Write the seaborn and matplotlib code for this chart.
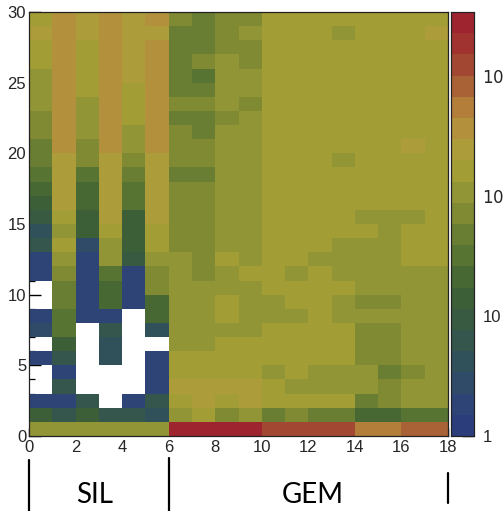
import numpy as np
import pandas as pd
import matplotlib
matplotlib.use("Agg")
import matplotlib.pyplot as plt
import matplotlib.transforms as mtransforms
from matplotlib.colors import ListedColormap, LogNorm
from matplotlib.ticker import FixedLocator, MultipleLocator, NullFormatter
import seaborn as sns

sns.set_theme(style="white")
plt.rcParams["font.family"] = ["Liberation Sans", "DejaVu Sans"]

# layer bins (x) and strip bins (y)
x_bins = list(range(18))
y_bins = list(range(30))

# hit counts, one list per y bin (y = 0 .. 29); 0 means no entries
# silicon layers, x = 0 .. 5
sil_hits = [
    [105, 105, 105, 105, 105, 105],
    [14, 6, 14, 6, 6, 4],
    [2, 2, 6, 0, 2, 6],
    [0, 6, 0, 0, 0, 2],
    [0, 2, 0, 0, 0, 2],
    [2, 6, 0, 4, 0, 2],
    [0, 14, 0, 4, 0, 0],
    [3, 31, 0, 6, 0, 4],
    [2, 31, 2, 2, 0, 21],
    [0, 47, 2, 21, 2, 21],
    [0, 47, 2, 21, 2, 70],
    [2, 70, 2, 31, 2, 70],
    [2, 105, 2, 105, 9, 105],
    [6, 160, 3, 105, 14, 160],
    [4, 105, 14, 160, 14, 160],
    [9, 160, 14, 240, 14, 240],
    [14, 240, 21, 240, 31, 240],
    [21, 240, 21, 240, 31, 240],
    [31, 240, 31, 240, 47, 240],
    [47, 240, 70, 240, 70, 240],
    [47, 360, 70, 360, 105, 360],
    [70, 360, 105, 360, 105, 360],
    [70, 360, 105, 360, 160, 360],
    [105, 360, 105, 360, 160, 360],
    [105, 360, 160, 360, 160, 360],
    [105, 360, 160, 360, 240, 360],
    [160, 360, 160, 360, 240, 360],
    [160, 360, 160, 360, 240, 360],
    [240, 360, 240, 360, 240, 240],
    [160, 360, 240, 360, 240, 360],
]

# GEM layers, x = 6 .. 17
gem_hits = [
    [2700, 2700, 2700, 2700, 1200, 1200, 1200, 1200, 540, 540, 800, 800],
    [105, 160, 70, 105, 47, 70, 47, 47, 21, 21, 31, 31],
    [160, 240, 160, 240, 160, 160, 160, 160, 47, 70, 105, 105],
    [240, 240, 240, 240, 160, 105, 105, 105, 105, 70, 105, 105],
    [160, 160, 160, 160, 105, 160, 105, 105, 105, 47, 70, 105],
    [160, 160, 160, 160, 160, 160, 160, 160, 70, 70, 105, 105],
    [105, 105, 160, 160, 160, 160, 160, 160, 70, 70, 105, 105],
    [105, 105, 105, 105, 160, 160, 160, 160, 70, 70, 105, 105],
    [105, 105, 160, 105, 105, 105, 160, 105, 105, 105, 105, 105],
    [105, 105, 160, 105, 105, 160, 160, 105, 70, 70, 105, 105],
    [105, 105, 105, 105, 160, 160, 160, 160, 105, 105, 105, 105],
    [105, 70, 105, 160, 160, 105, 160, 105, 105, 105, 105, 105],
    [105, 70, 160, 105, 160, 160, 105, 105, 105, 105, 160, 160],
    [70, 70, 105, 105, 160, 160, 160, 105, 105, 105, 160, 160],
    [70, 70, 105, 105, 160, 160, 160, 160, 160, 105, 160, 160],
    [70, 70, 105, 105, 160, 160, 160, 160, 105, 105, 105, 160],
    [70, 70, 105, 105, 160, 160, 160, 160, 160, 160, 160, 160],
    [70, 70, 105, 105, 160, 160, 160, 160, 160, 160, 160, 160],
    [47, 47, 105, 105, 160, 160, 160, 160, 160, 160, 160, 160],
    [70, 70, 105, 105, 160, 160, 160, 105, 160, 160, 160, 160],
    [70, 70, 105, 105, 160, 160, 160, 160, 160, 160, 240, 160],
    [70, 47, 105, 105, 160, 160, 160, 160, 160, 160, 160, 160],
    [47, 47, 70, 105, 160, 160, 160, 160, 160, 160, 160, 160],
    [70, 70, 105, 70, 160, 160, 160, 160, 160, 160, 160, 160],
    [47, 47, 105, 105, 160, 160, 160, 160, 160, 160, 160, 160],
    [47, 31, 105, 105, 160, 160, 160, 160, 160, 160, 160, 160],
    [47, 70, 105, 70, 160, 160, 160, 160, 160, 160, 160, 160],
    [47, 47, 70, 70, 160, 160, 160, 160, 160, 160, 160, 160],
    [47, 47, 70, 105, 160, 160, 160, 105, 160, 160, 160, 240],
    [70, 47, 70, 70, 160, 160, 160, 160, 160, 160, 160, 160],
]

# detector groups along x
groups = ["SIL", "GEM"]
group_edges = [0, 6, 18]

z_min, z_max = 1, 3400

# 20-step palette, lowest to highest contour
palette = [
    "#2c3d7b", "#2e4476", "#2f4b68", "#31515a", "#34564c",
    "#385a41", "#3d5f37", "#476833", "#587432", "#697d33",
    "#7f8a33", "#929535", "#a39d36", "#ad9c3a", "#b3903c",
    "#b27e3a", "#a96136", "#a24832", "#a0322f", "#9e2430",
]
cmap = ListedColormap(palette)

hits = np.hstack([np.array(sil_hits), np.array(gem_hits)])
df = pd.DataFrame(hits, index=y_bins, columns=x_bins)

W, H, DPI = 504, 511, 100
fig = plt.figure(figsize=(W / DPI, H / DPI), dpi=DPI)
ax = fig.add_axes([29 / W, 75 / H, 419 / W, 424 / H])
cax = fig.add_axes([451 / W, 75 / H, 23 / W, 424 / H])

sns.heatmap(
    df, mask=(df == 0), cmap=cmap, norm=LogNorm(vmin=z_min, vmax=z_max),
    ax=ax, cbar_ax=cax, xticklabels=False, yticklabels=False,
    linewidths=0,
)
ax.collections[0].set_antialiased(False)
ax.invert_yaxis()
ax.set_xlim(0, 18)
ax.set_ylim(0, 30)
ax.set_xlabel("")
ax.set_ylabel("")

for s in ax.spines.values():
    s.set_visible(True)
    s.set_color("#222222")
    s.set_linewidth(0.9)

ax.xaxis.set_major_locator(FixedLocator(list(range(0, 19, 2))))
ax.xaxis.set_minor_locator(MultipleLocator(0.5))
ax.set_xticklabels([str(v) for v in range(0, 19, 2)])
ax.yaxis.set_major_locator(FixedLocator(list(range(0, 31, 5))))
ax.yaxis.set_minor_locator(MultipleLocator(1))
ax.set_yticklabels([str(v) for v in range(0, 31, 5)])
ax.tick_params(axis="x", which="major", direction="in", length=5.5, width=1,
               color="black", labelsize=12, pad=3, bottom=True, top=False)
ax.tick_params(axis="x", which="minor", direction="in", length=3, width=0.9,
               color="black", bottom=True, top=False)
ax.tick_params(axis="y", which="major", direction="in", length=8.5, width=1,
               color="black", labelsize=12, pad=2, left=True, right=False)
ax.tick_params(axis="y", which="minor", direction="in", length=4.3, width=0.9,
               color="black", left=True, right=False)

# colour scale
cax.set_yscale("log")
cax.set_ylim(z_min, z_max)
cax.yaxis.set_ticks_position("right")
cax.yaxis.set_major_locator(FixedLocator([1, 10, 100, 1000]))
cax.set_yticklabels(["1", "10", r"$10^{2}$", r"$10^{3}$"])
minors = [m * d for d in (1, 10, 100, 1000) for m in range(2, 10) if m * d < z_max]
cax.yaxis.set_minor_locator(FixedLocator(minors))
cax.yaxis.set_minor_formatter(NullFormatter())
cax.tick_params(which="major", direction="in", length=8.5, width=1,
                color="black", labelsize=12, pad=6, right=True, left=False)
cax.tick_params(which="minor", direction="in", length=4.3, width=0.9,
                color="black", right=True, left=False)
for s in cax.spines.values():
    s.set_visible(True)
    s.set_linewidth(0.8)
    s.set_color("#222222")

# detector group markers below the x axis
tr = mtransforms.blended_transform_factory(ax.transData, fig.transFigure)
for xe, (y0, y1) in zip(group_edges, [(0, 51), (0, 53), (8, 38)]):
    ax.plot([xe, xe], [y0 / H, y1 / H], color="black", lw=1.6,
            transform=tr, clip_on=False)
for name, (a, b) in zip(groups, zip(group_edges[:-1], group_edges[1:])):
    ax.text((a + b) / 2 - (0.17 if name == "SIL" else -0.2), 16 / H, name,
            transform=tr, ha="center", va="center", fontsize=20,
            family=["Lato", "DejaVu Sans"], color="black")

fig.savefig("out.png", dpi=DPI)
